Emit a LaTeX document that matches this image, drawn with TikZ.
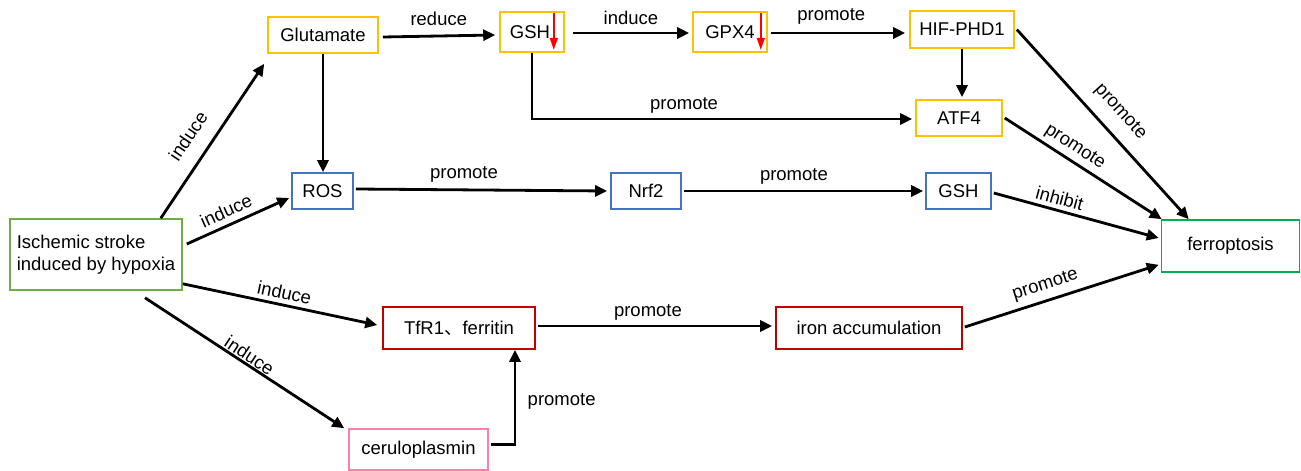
\documentclass[tikz,border=0pt]{standalone}
\usepackage{fontspec}
\setmainfont{Liberation Sans}
\newfontfamily\cjkfont{Noto Sans CJK SC}
\usetikzlibrary{arrows.meta,calc}
\definecolor{cgold}{HTML}{FFC000}
\definecolor{cblue}{HTML}{4472C4}
\definecolor{cgreenA}{HTML}{70AD47}
\definecolor{cgreenB}{HTML}{00B050}
\definecolor{cred}{HTML}{C00000}
\definecolor{cpink}{HTML}{FF7FA8}
\begin{document}
\begin{tikzpicture}[x=1pt,y=-1pt,
  font=\fontsize{18.5}{22}\selectfont,
  box/.style={draw,line width=1.6pt,inner sep=2pt,fill=white},
  arr/.style={line width=2.8pt,-{Triangle[length=12pt,width=11pt]}},
  redarr/.style={draw=red,line width=1.6pt,-{Triangle[length=12pt,width=8pt]}},
  lbl/.style={sloped,above,inner sep=3pt}]
\useasboundingbox (0,0) rectangle (1301,471);
% nodes
\node[box,draw=cgreenA,minimum width=172pt,minimum height=71pt,align=left] (stroke) at (96,254.5) {Ischemic stroke\\induced by hypoxia};
\node[box,draw=cgold,minimum width=110pt,minimum height=36pt] (glut) at (323,35) {Glutamate};
\node[box,draw=cgold,minimum width=64pt,minimum height=40pt] (gshA) at (532,32) {\hspace*{-4pt}GSH};
\node[box,draw=cgold,minimum width=74pt,minimum height=40pt] (gpx) at (730,32) {GPX4};
\node[box,draw=cgold,minimum width=104pt,minimum height=37pt] (hif) at (962,29.5) {HIF-PHD1};
\node[box,draw=cgold,minimum width=86pt,minimum height=36pt] (atf) at (959,118) {ATF4};
\node[box,draw=cblue,minimum width=61pt,minimum height=36pt] (ros) at (322.5,191) {ROS};
\node[box,draw=cblue,minimum width=70pt,minimum height=36pt] (nrf) at (646,191) {Nrf2};
\node[box,draw=cblue,minimum width=65pt,minimum height=36pt] (gshB) at (958.5,191) {GSH};
\node[box,draw=cgreenB,minimum width=138pt,minimum height=52pt] (ferr) at (1230.5,246) {ferroptosis};
\node[box,draw=cred,minimum width=152pt,minimum height=42pt] (tfr) at (459,328) {TfR1{\cjkfont 、}ferritin};
\node[box,draw=cred,minimum width=186pt,minimum height=42pt] (iron) at (869,328) {iron accumulation};
\node[box,draw=cpink,minimum width=139pt,minimum height=41pt] (cer) at (418.5,449.5) {ceruloplasmin};
% red arrows
\draw[redarr] ([xshift=-11pt,yshift=-2pt]gshA.north east) -- ([xshift=-11pt,yshift=3pt]gshA.south east);
\draw[redarr] ([xshift=-7pt,yshift=-2pt]gpx.north east) -- ([xshift=-7pt,yshift=3pt]gpx.south east);
% connectors
\draw[arr] ([xshift=-22pt]stroke.north east) -- node[lbl,pos=0.45,above=12pt]{induce} ([xshift=-3pt,yshift=-10pt]glut.south west);
\draw[arr] ([xshift=4pt,yshift=10.5pt]stroke.east) -- node[lbl,pos=0.44,above=3pt]{induce} ([xshift=-2pt,yshift=-7pt]ros.west);
\draw[arr] ([yshift=7pt]stroke.south east) -- node[lbl,pos=0.51,above=1pt]{induce} ([xshift=-5pt,yshift=3pt]tfr.west);
\draw[arr] ([xshift=49pt,yshift=-7pt]stroke.south) -- node[lbl,pos=0.5,above=-2pt]{induce} ([xshift=-4pt]cer.north west);
\draw[arr] ([xshift=4pt,yshift=-2pt]glut.east) -- node[lbl,pos=0.5,above=6pt]{reduce} ([xshift=-4pt]glut.east -| gshA.west);
\draw[arr] (glut.south) -- (glut.south |- ros.north);
\draw[arr] ([xshift=8pt,yshift=-1pt]gshA.east) -- node[lbl,pos=0.5,above=4pt]{induce} ([xshift=-3pt,yshift=-1pt]gpx.west);
\draw[arr] ([xshift=3pt,yshift=-1pt]gpx.east) -- node[lbl,pos=0.45,above=4pt]{promote} ([xshift=-4pt,yshift=-1pt]gpx.east -| hif.west);
\draw[arr] (gshA.south) |- node[pos=0.70,above=1pt]{promote} ([xshift=-3pt,yshift=-1pt]atf.west);
\draw[arr] (hif.south) -- ([yshift=2pt]hif.south |- atf.north);
\draw[arr] ([xshift=2pt]hif.east) -- node[lbl,pos=0.51,above=9pt]{promote} ([xshift=28pt]ferr.north west);
\draw[arr] ([xshift=2pt]atf.east) -- node[lbl,pos=0.40,above=1pt]{promote} ([xshift=1pt]ferr.north west);
\draw[arr] ([xshift=2pt,yshift=2pt]ros.east) -- node[lbl,pos=0.43,above=3pt]{promote} ([xshift=-3pt]nrf.west);
\draw[arr] ([xshift=2pt]nrf.east) -- node[lbl,pos=0.46,above=2pt]{promote} ([xshift=-2pt]gshB.west);
\draw[arr] ([xshift=2pt,yshift=-2pt]gshB.east) -- node[lbl,pos=0.38,above=1pt]{inhibit} ([xshift=-2pt,yshift=8pt]ferr.west);
\draw[arr] ([xshift=2pt,yshift=2pt]tfr.east) -- node[lbl,pos=0.47,above=1pt]{promote} ([xshift=-3pt,yshift=2pt]iron.west);
\draw[arr] ([xshift=2pt,yshift=1pt]iron.east) -- node[lbl,pos=0.44,above=3pt]{promote} ([xshift=-2pt,yshift=8pt]ferr.south west);
\draw[arr] ([xshift=2pt,yshift=5pt]cer.east) -| node[pos=0.73,right=8pt]{promote} ([xshift=56pt]tfr.south);
\end{tikzpicture}
\end{document}
